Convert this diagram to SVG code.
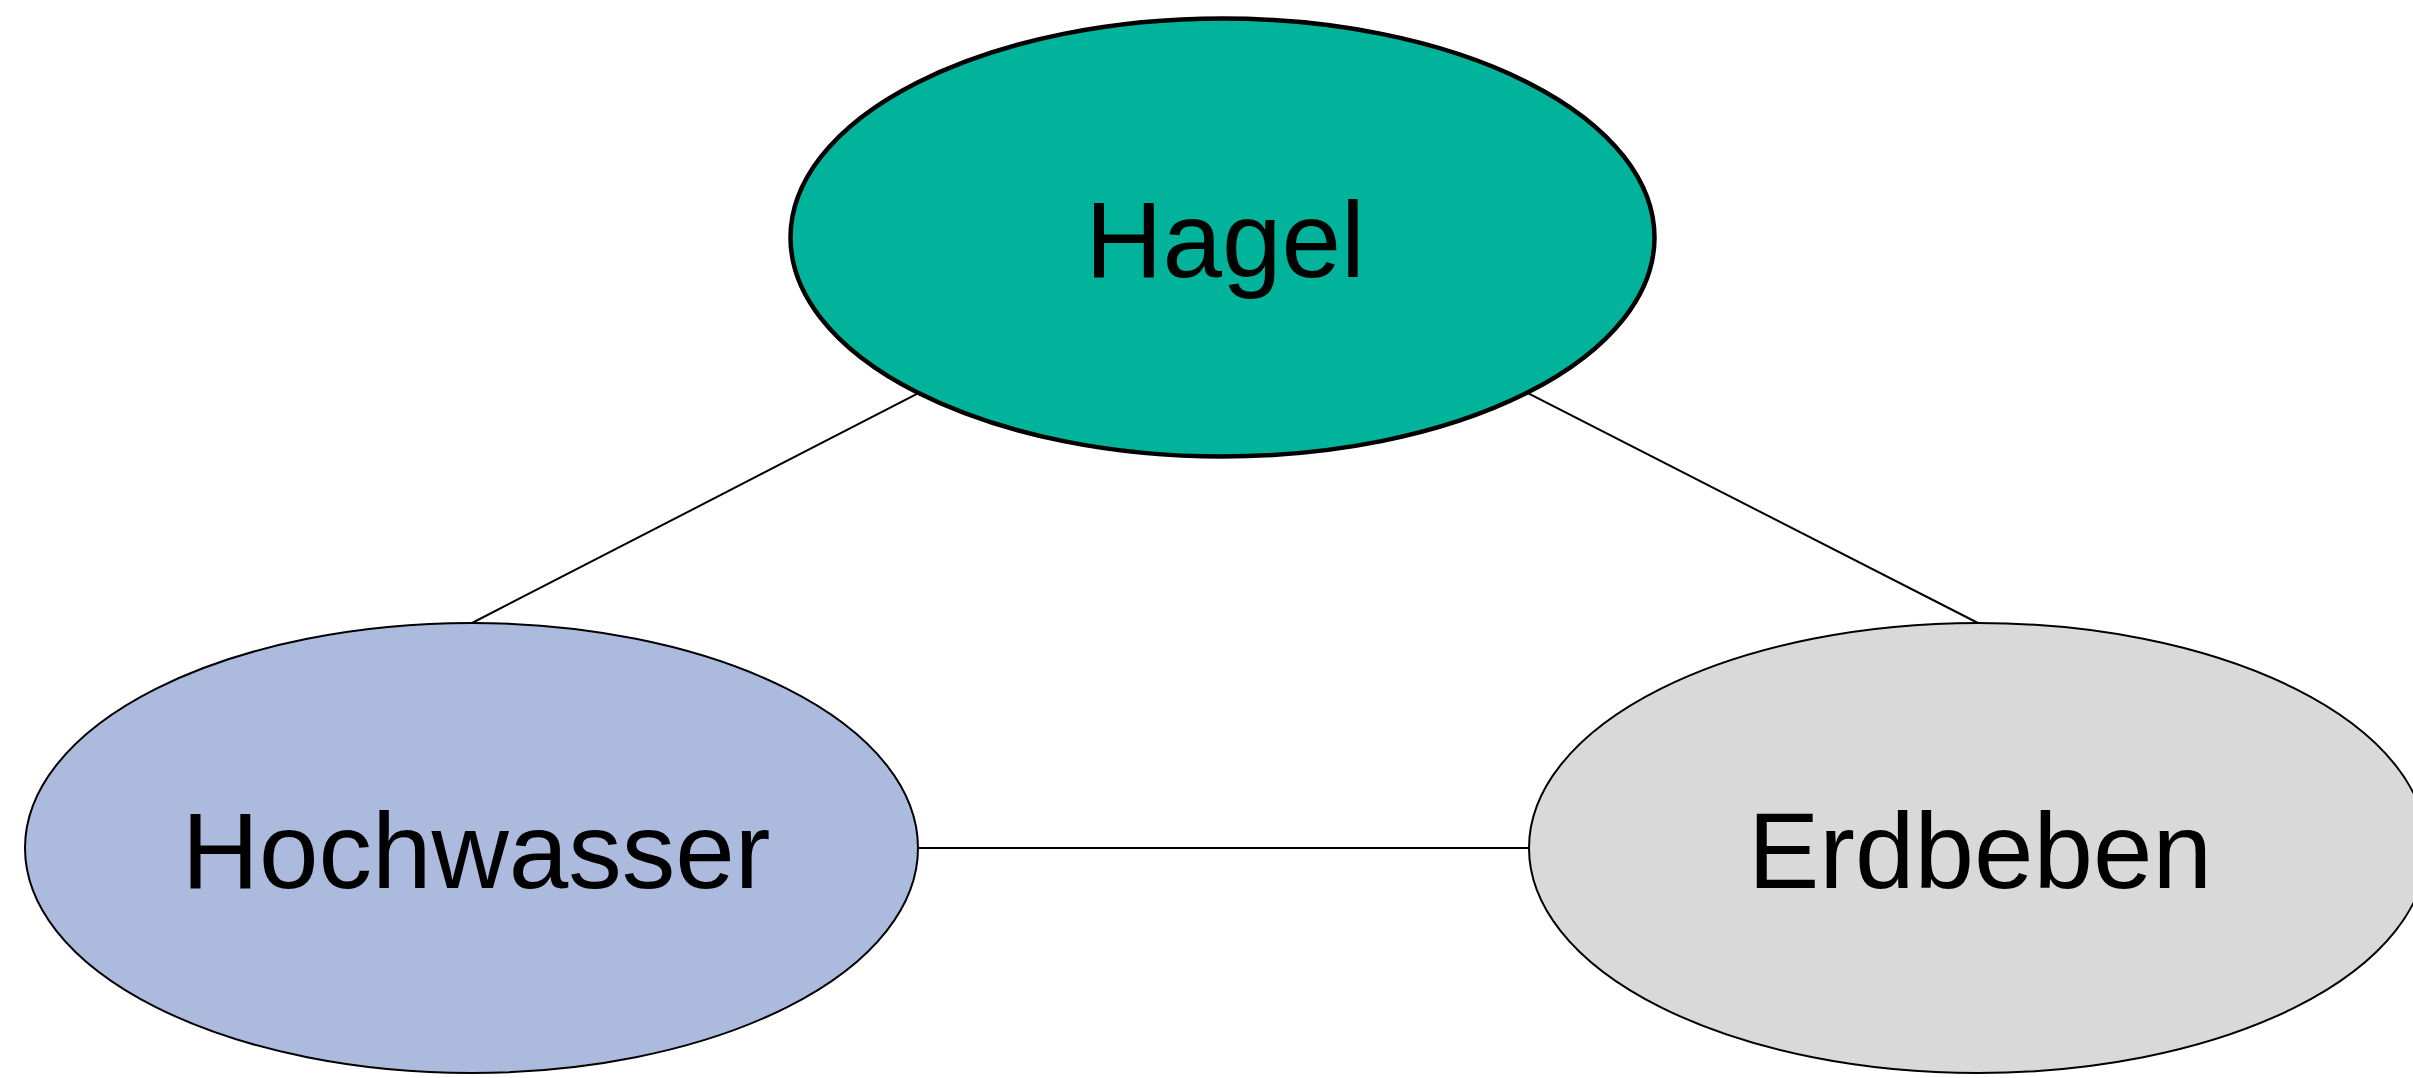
<svg xmlns="http://www.w3.org/2000/svg" width="2413" height="1078" viewBox="0 0 2413 1078">
<style>
.edge{stroke:#000;stroke-width:2;fill:none}
.node{stroke:#000;stroke-width:2}
.node.thick{stroke-width:4.5}
.lbl{font-family:"Liberation Sans",Arial,sans-serif;font-size:107px;fill:#000;text-anchor:middle}
</style>
<rect width="2413" height="1078" fill="#fff"/>
<g id="connectors">
<line class="edge" x1="472" y1="623" x2="1222" y2="237"/>
<line class="edge" x1="1978" y1="623" x2="1222" y2="237"/>
<line class="edge" x1="918" y1="848" x2="1529" y2="848"/>
</g>
<g id="node-hagel">
<ellipse class="node thick" cx="1222.5" cy="237.5" rx="432" ry="219" fill="#00B39A"/>
<text class="lbl" x="1225" y="277">Hagel</text>
</g>
<g id="node-hochwasser">
<ellipse class="node" cx="471.5" cy="848" rx="446.5" ry="225" fill="#ABBADD"/>
<text class="lbl" x="476" y="888">Hochwasser</text>
</g>
<g id="node-erdbeben">
<ellipse class="node" cx="1978" cy="848" rx="449" ry="225" fill="#D9D9D9"/>
<text class="lbl" x="1980" y="888">Erdbeben</text>
</g>
</svg>
